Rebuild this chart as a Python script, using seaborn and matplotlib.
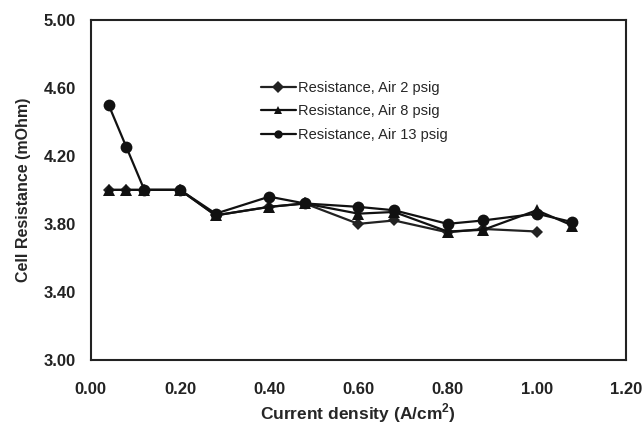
import pandas as pd
import seaborn as sns
import matplotlib
matplotlib.use('Agg')
import matplotlib.pyplot as plt

# datos
x_2psig = [0.04, 0.08, 0.12, 0.20, 0.28, 0.40, 0.48, 0.60, 0.68, 0.80, 0.88, 1.00]
r_2psig = [4.00, 4.00, 4.00, 4.00, 3.85, 3.90, 3.92, 3.80, 3.82, 3.75, 3.77, 3.755]

x_8psig = [0.04, 0.08, 0.12, 0.20, 0.28, 0.40, 0.48, 0.60, 0.68, 0.80, 0.88, 1.00, 1.08]
r_8psig = [4.00, 4.00, 4.00, 4.00, 3.85, 3.90, 3.92, 3.86, 3.87, 3.755, 3.765, 3.88, 3.79]

x_13psig = [0.04, 0.08, 0.12, 0.20, 0.28, 0.40, 0.48, 0.60, 0.68, 0.80, 0.88, 1.00, 1.08]
r_13psig = [4.50, 4.25, 4.00, 4.00, 3.86, 3.96, 3.92, 3.90, 3.88, 3.80, 3.82, 3.86, 3.81]

series = ['Resistance, Air 2 psig', 'Resistance, Air 8 psig', 'Resistance, Air 13 psig']

df = pd.concat([
    pd.DataFrame({'x': x_2psig, 'r': r_2psig, 'serie': series[0]}),
    pd.DataFrame({'x': x_8psig, 'r': r_8psig, 'serie': series[1]}),
    pd.DataFrame({'x': x_13psig, 'r': r_13psig, 'serie': series[2]}),
], ignore_index=True)

sns.set_style('white')
plt.rcParams['font.family'] = ['Liberation Sans', 'DejaVu Sans']
plt.rcParams['mathtext.fontset'] = 'custom'
plt.rcParams['mathtext.bf'] = 'Liberation Sans:bold'
plt.rcParams['mathtext.rm'] = 'Liberation Sans:bold'

fig = plt.figure(figsize=(6.44, 4.34), dpi=100)
ax = fig.add_axes([0.141, 0.171, 0.831, 0.783])

sns.lineplot(data=df, x='x', y='r', hue='serie', style='serie', hue_order=series, style_order=series,
             palette=['#222222', '#111111', '#111111'], markers=['D', '^', 'o'], dashes=False,
             markersize=8.5, markeredgewidth=0, linewidth=1.6, sort=False, ax=ax)
# el rombo es algo mas pequeño
ax.lines[0].set_markersize(6.5)

ax.set_xlim(0, 1.2)
ax.set_ylim(3.0, 5.0)
ax.set_xticks([0, 0.2, 0.4, 0.6, 0.8, 1.0, 1.2])
ax.set_yticks([3.0, 3.4, 3.8, 4.2, 4.6, 5.0])
ax.set_xticklabels(['%.2f' % v for v in ax.get_xticks()], fontweight='bold')
ax.set_yticklabels(['%.2f' % v for v in ax.get_yticks()], fontweight='bold')
ax.tick_params(direction='in', length=4, width=1, labelsize=12, colors='#222222')
ax.tick_params(axis='y', pad=11)
ax.tick_params(axis='x', pad=16)

for s in ax.spines.values():
    s.set_linewidth(1.5)
    s.set_color('#222222')

ax.set_xlabel(r'Current density (A/cm$^{\mathbf{2}}$)', fontsize=12.5, fontweight='bold', labelpad=3)
ax.set_ylabel('Cell Resistance (mOhm)', fontsize=11.5, fontweight='bold', labelpad=9)

leg = ax.legend(loc='upper left', bbox_to_anchor=(0.293, 0.86), frameon=False, fontsize=10.5,
                handlelength=2.4, handletextpad=0.15, labelspacing=0.65)
for h in leg.legend_handles:
    h.set_markersize(6)

fig.savefig('out.png', dpi=100)
